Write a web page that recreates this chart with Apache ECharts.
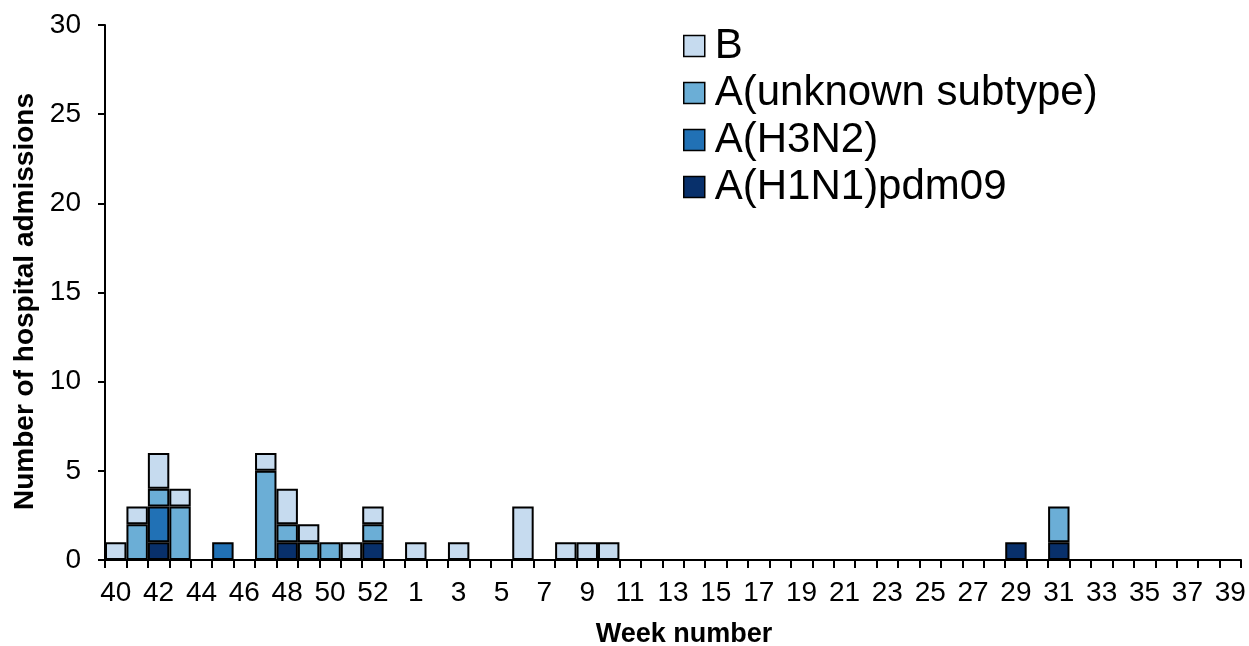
<!DOCTYPE html>
<html>
<head>
<meta charset="utf-8">
<script src="https://cdn.jsdelivr.net/npm/echarts@6/dist/echarts.min.js"></script>
<style>html,body{margin:0;padding:0;background:#fff;}#c{width:1249px;height:646px;}</style>
</head>
<body>
<div id="c"></div>
<script>
const weeks = ['40','41','42','43','44','45','46','47','48','49','50','51','52','53',
  '1','2','3','4','5','6','7','8','9','10','11','12','13','14','15','16','17','18','19','20',
  '21','22','23','24','25','26','27','28','29','30','31','32','33','34','35','36','37','38','39'];
// values by week (null = none)
const h1n1 =    [null,null,1,null,null,null,null,null,1,null,null,null,1,null,
  null,null,null,null,null,null,null,null,null,null,null,null,null,null,null,null,null,null,null,null,
  null,null,null,null,null,null,null,null,1,null,1,null,null,null,null,null,null,null,null];
const h3n2 =    [null,null,2,null,null,1,null,null,null,null,null,null,null,null,
  null,null,null,null,null,null,null,null,null,null,null,null,null,null,null,null,null,null,null,null,
  null,null,null,null,null,null,null,null,null,null,null,null,null,null,null,null,null,null,null];
const unknownA = [null,2,1,3,null,null,null,5,1,1,1,null,1,null,
  null,null,null,null,null,null,null,null,null,null,null,null,null,null,null,null,null,null,null,null,
  null,null,null,null,null,null,null,null,null,null,2,null,null,null,null,null,null,null,null];
const fluB =    [1,1,2,1,null,null,null,1,2,1,null,1,1,null,
  1,null,1,null,null,3,null,1,1,1,null,null,null,null,null,null,null,null,null,null,
  null,null,null,null,null,null,null,null,null,null,null,null,null,null,null,null,null,null,null];
const seriesNames = ['A(H1N1)pdm09','A(H3N2)','A(unknown subtype)','B'];
const seriesData = [h1n1, h3n2, unknownA, fluB];
const colors = ['#08306b','#2171b5','#6baed6','#c6dbef'];
const legendOrder = ['B','A(unknown subtype)','A(H3N2)','A(H1N1)pdm09'];

const font = 'Liberation Sans, Arial, sans-serif';
const chart = echarts.init(document.getElementById('c'), null, {renderer:'canvas'});
chart.setOption({
  animation: false,
  backgroundColor: '#fff',
  textStyle: {fontFamily: font, color: '#000'},
  grid: {left: 105, right: 8, top: 25, bottom: 86, containLabel: false, outerBoundsMode: 'none'},
  legend: {
    data: legendOrder,
    orient: 'vertical',
    left: 678, top: 20,
    icon: 'rect',
    itemWidth: 21, itemHeight: 21,
    itemGap: 5,
    textStyle: {fontSize: 42, fontFamily: font, color: '#000', padding: [0,0,0,5]},
    itemStyle: {borderColor: '#000', borderWidth: 1.5}
  },
  xAxis: {
    type: 'category',
    data: weeks,
    name: 'Week number',
    nameLocation: 'middle',
    nameGap: 61,
    nameTextStyle: {fontSize: 27, fontWeight: 'bold', fontFamily: font, color: '#000', padding: [0,0,0,22]},
    axisLine: {lineStyle: {color: '#000', width: 2}},
    axisTick: {show: true, interval: 0, alignWithLabel: false, length: 8, lineStyle: {color: '#000', width: 2}},
    axisLabel: {interval: 1, fontSize: 28, fontFamily: font, color: '#000', margin: 19},
    splitLine: {show: false}
  },
  yAxis: {
    type: 'value',
    min: 0, max: 30, interval: 5,
    name: 'Number of hospital admissions',
    nameLocation: 'middle',
    nameGap: 66,
    nameRotate: 90,
    nameTextStyle: {fontSize: 28, fontWeight: 'bold', fontFamily: font, color: '#000', padding: [0,18,0,0]},
    axisLine: {show: true, lineStyle: {color: '#000', width: 2}},
    axisTick: {show: true, length: 7, lineStyle: {color: '#000', width: 2}},
    axisLabel: {fontSize: 28, fontFamily: font, color: '#000', margin: 24},
    splitLine: {show: false}
  },
  series: seriesNames.map((n, i) => ({
    name: n,
    type: 'bar',
    stack: 'total',
    data: seriesData[i],
    barCategoryGap: '0%',
    itemStyle: {color: colors[i], borderColor: '#000', borderWidth: 2}
  }))
});
</script>
</body>
</html>
